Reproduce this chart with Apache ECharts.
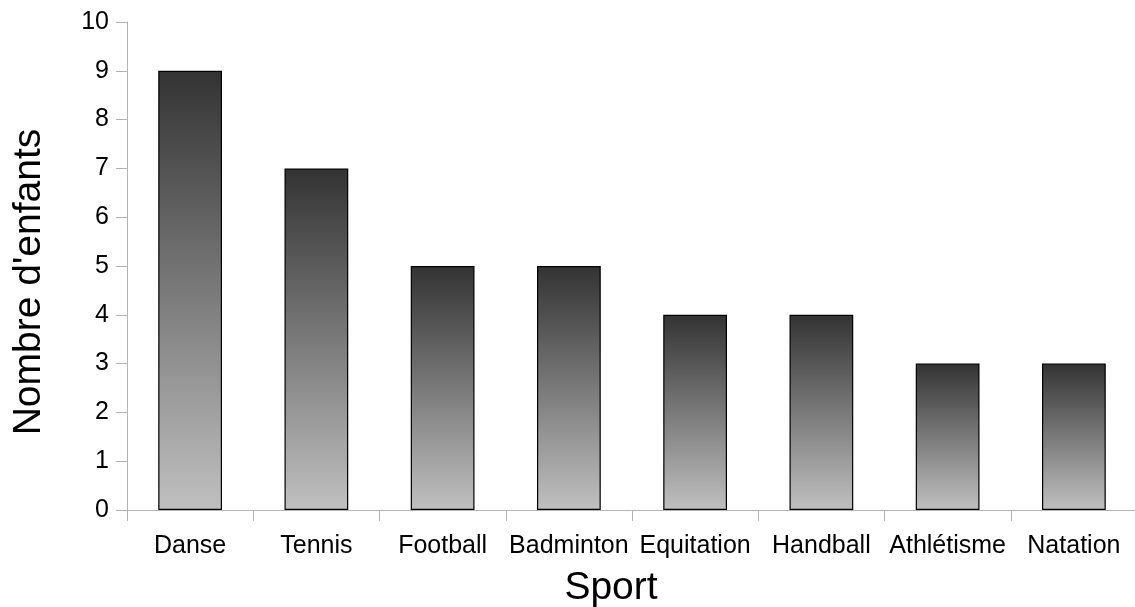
<!DOCTYPE html>
<html><head><meta charset="utf-8">
<script src="https://cdn.jsdelivr.net/npm/echarts@6/dist/echarts.min.js"></script>
<style>html,body{margin:0;padding:0;background:#fff}#c{width:1135px;height:607px}</style>
</head><body><div id="c"></div>
<script>
const categories = ['Danse','Tennis','Football','Badminton','Equitation','Handball','Athlétisme','Natation'];
const values = [9,7,5,5,4,4,3,3];
const yTicks = {min:0, max:10, interval:1};

const chart = echarts.init(document.getElementById('c'), null, {renderer:'canvas'});
const font = 'Liberation Sans, Arial, sans-serif';
chart.setOption({
  animation:false,
  backgroundColor:'#fff',
  grid:{left:127, right:-2, top:22, bottom:97, containLabel:false, outerBoundsMode:'none'},
  xAxis:{
    type:'category', data:categories,
    name:'Sport', nameLocation:'middle', nameGap:59,
    nameTextStyle:{fontFamily:font, fontSize:39, color:'#000', padding:[0,42,0,0]},
    axisLine:{lineStyle:{color:'#b3b3b3', width:1}},
    axisTick:{show:true, length:11, lineStyle:{color:'#b3b3b3'}},
    axisLabel:{fontFamily:font, fontSize:25, color:'#000', margin:24, interval:0}
  },
  yAxis:{
    type:'value', min:yTicks.min, max:yTicks.max, interval:yTicks.interval,
    name:"Nombre d'enfants", nameLocation:'middle', nameGap:78,
    nameTextStyle:{fontFamily:font, fontSize:39, color:'#000', padding:[0,32,0,0]},
    axisLine:{show:true, lineStyle:{color:'#b3b3b3', width:1}},
    axisTick:{show:true, length:11, lineStyle:{color:'#b3b3b3'}},
    splitLine:{show:false},
    axisLabel:{fontFamily:font, fontSize:25, color:'#000', margin:18}
  },
  series:[{
    type:'bar', data:values, barWidth:'50.5%',
    itemStyle:{
      borderColor:'#000', borderWidth:1.2,
      color:new echarts.graphic.LinearGradient(0,0,0,1,[{offset:0,color:'#333333'},{offset:1,color:'#c0c0c0'}])
    }
  }]
});
</script></body></html>
